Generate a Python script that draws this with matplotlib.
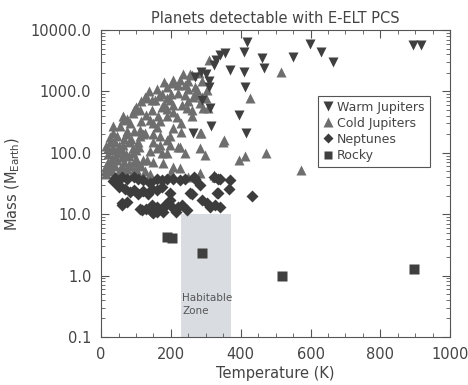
import matplotlib
matplotlib.use("Agg")
import matplotlib.pyplot as plt
from matplotlib.ticker import FixedLocator, MultipleLocator, LogLocator, NullFormatter

# Warm Jupiters (temperature K, mass M_Earth)
warm_t = [417, 408, 597, 629, 664, 549, 460, 468, 370, 410, 356, 341, 322, 300,
          285, 310, 413, 310, 289, 311, 394, 314, 263, 415, 892, 916, 330, 270]
warm_m = [6450, 4450, 6000, 4450, 3050, 3600, 3450, 2400, 2240, 2100, 4150, 3900,
          2700, 1900, 2100, 1450, 1170, 1170, 725, 530, 415, 275, 210, 213, 5700,
          5700, 3300, 1700]

# Cold Jupiters
cold_t = [516, 427, 352, 473, 573, 411, 396, 287, 282, 298, 229, 226,
          310, 281, 260, 249, 303, 263, 284, 207, 226, 188, 136, 131, 155, 231,
          261, 207, 112, 64, 35, 255, 203, 221, 241, 274, 145, 188, 198, 175,
          165, 240, 270, 290, 174, 188, 207, 246, 293, 307, 93, 100, 164, 188,
          140, 217, 260, 64, 83, 55, 35, 45, 25, 284, 112, 126, 112, 169, 198,
          150, 169, 64, 90, 110, 80, 350, 198, 220, 140, 188, 240, 20, 30, 45,
          60, 80, 100, 120, 131, 150, 178, 207, 226, 20, 40, 60, 80, 100, 125,
          15, 30, 50, 70, 90, 110, 140, 200, 250, 330, 150, 170, 40, 55, 70, 95,
          160, 130, 115, 85, 145, 180, 220, 250, 200, 300, 284, 322,
          15, 25, 35, 45, 55, 65, 75, 85, 95, 105, 115, 20, 30, 40, 50, 60, 70,
          90, 100, 10, 15, 25, 35, 75, 65, 105, 120, 150, 160, 175, 190, 205,
          230, 250, 270, 290, 235, 180, 160, 115, 125, 90, 75]
cold_m = [2100, 770, 162, 98, 53, 87, 76, 210, 118, 92, 215, 125,
          3200, 2000, 1850, 1450, 1050, 820, 640, 1550, 1550, 1200, 1000, 780,
          730, 600, 500, 470, 500, 390, 270, 1950, 1360, 1260, 1260, 1050, 730,
          780, 730, 900, 850, 860, 870, 820, 560, 520, 600, 530, 530, 530, 500,
          560, 390, 390, 340, 380, 390, 340, 300, 270, 210, 190, 180, 210, 235,
          210, 185, 185, 185, 150, 135, 135, 120, 125, 150, 150, 135, 125, 105,
          100, 100, 95, 80, 100, 85, 90, 80, 75, 76, 71, 68, 58, 56, 70, 60, 60,
          65, 55, 50, 45, 50, 45, 45, 48, 42, 45, 48, 40, 40, 300, 330, 150, 120,
          200, 230, 260, 420, 330, 170, 500, 600, 950, 1100, 900, 780, 47, 44,
          60, 55, 65, 75, 55, 70, 55, 60, 70, 65, 60, 120, 110, 90, 130, 110, 95,
          100, 110, 50, 130, 150, 120, 230, 170, 150, 200, 200, 120, 100, 160,
          250, 300, 700, 1200, 1500, 1900, 1400, 1100, 700, 800, 450, 350]

# Neptunes
nep_t = [40, 59, 74, 93, 107, 50, 69, 83, 121, 140, 159, 174, 188, 207, 226,
         241, 145, 159, 174, 198, 269, 284, 322, 336, 334, 255, 370, 432, 59,
         74, 112, 145, 159, 145, 159, 174, 183, 198, 221, 246, 289, 303, 312,
         327, 341, 40, 50, 94, 105, 120, 135, 265, 341, 365, 331, 260, 117,
         150, 178, 231, 35, 60, 130, 200, 215]
nep_m = [39, 40, 38, 40, 38, 28, 26, 23, 36, 32, 37, 36, 38, 37, 36, 37, 26, 25,
         28, 22, 38, 30, 41, 38, 22, 22, 36, 20, 15, 16, 12, 14, 13, 11, 11, 12,
         14, 17, 13, 11.5, 17, 15, 13, 14, 13, 33, 30, 25, 21, 24, 21, 41, 38,
         26, 22, 21, 11.5, 10.3, 11, 14, 35, 14, 12, 13.5, 11]

# Rocky
rocky_t = [188, 204, 290, 518, 897]
rocky_m = [4.3, 4.15, 2.3, 1.0, 1.26]

HZ_T = (230, 373)
HZ_M_TOP = 10.0

TXT = "#444444"

fig = plt.figure(figsize=(4.68, 3.85), dpi=100)
ax = fig.add_axes([0.216, 0.125, 0.746, 0.797])

ax.fill_between(HZ_T, 0.1, HZ_M_TOP, color="#d9dce1", lw=0, zorder=0)
ax.text(HZ_T[0] + 2, 0.22, "Habitable\nZone", fontsize=7.5, color="#555555",
        va="bottom", ha="left", linespacing=1.3)

ax.plot(cold_t, cold_m, ls="none", marker="^", ms=7.5, color="#6e6e6e",
        mec="none", label="Cold Jupiters", zorder=2)
ax.plot(warm_t, warm_m, ls="none", marker="v", ms=7.5, color="#3f3f3f",
        mec="none", label="Warm Jupiters", zorder=3)
ax.plot(nep_t, nep_m, ls="none", marker="D", ms=6, color="#3c3c3c",
        mec="none", label="Neptunes", zorder=4)
ax.plot(rocky_t, rocky_m, ls="none", marker="s", ms=6.5, color="#3f3f3f",
        mec="none", label="Rocky", zorder=4)

ax.set_yscale("log")
ax.set_xlim(0, 1000)
ax.set_ylim(0.1, 10000)

ax.xaxis.set_major_locator(MultipleLocator(200))
ax.xaxis.set_minor_locator(MultipleLocator(50))
ax.yaxis.set_major_locator(FixedLocator([0.1, 1, 10, 100, 1000, 10000]))
ax.yaxis.set_minor_locator(LogLocator(base=10, subs=range(2, 10)))
ax.yaxis.set_minor_formatter(NullFormatter())
ax.set_yticklabels(["0.1", "1.0", "10.0", "100.0", "1000.0", "10000.0"])

ax.tick_params(which="both", direction="in", top=True, right=True,
               color="#555555", labelcolor=TXT, labelsize=10.5)
ax.tick_params(which="major", length=6, width=0.8, pad=7)
ax.tick_params(which="minor", length=3, width=0.6)
for s in ax.spines.values():
    s.set_color("#555555")
    s.set_linewidth(0.8)

ax.set_xlabel("Temperature (K)", color=TXT, fontsize=10.5, labelpad=3)
ax.set_ylabel(r"Mass (M$_{\mathrm{Earth}}$)", color=TXT, fontsize=10.5, labelpad=6)
ax.set_title("Planets detectable with E-ELT PCS", color=TXT, fontsize=10.5, pad=5)

handles, labels = ax.get_legend_handles_labels()
order = [1, 0, 2, 3]
leg = ax.legend([handles[i] for i in order], [labels[i] for i in order],
                loc="upper right", bbox_to_anchor=(0.959, 0.807),
                fancybox=False, framealpha=1, edgecolor="#555555",
                fontsize=9, handlelength=0.8, handletextpad=0.3,
                borderpad=0.4, labelspacing=0.25, markerscale=0.9)
leg.get_frame().set_linewidth(0.8)
for t in leg.get_texts():
    t.set_color(TXT)

fig.savefig("out.png", dpi=100)
